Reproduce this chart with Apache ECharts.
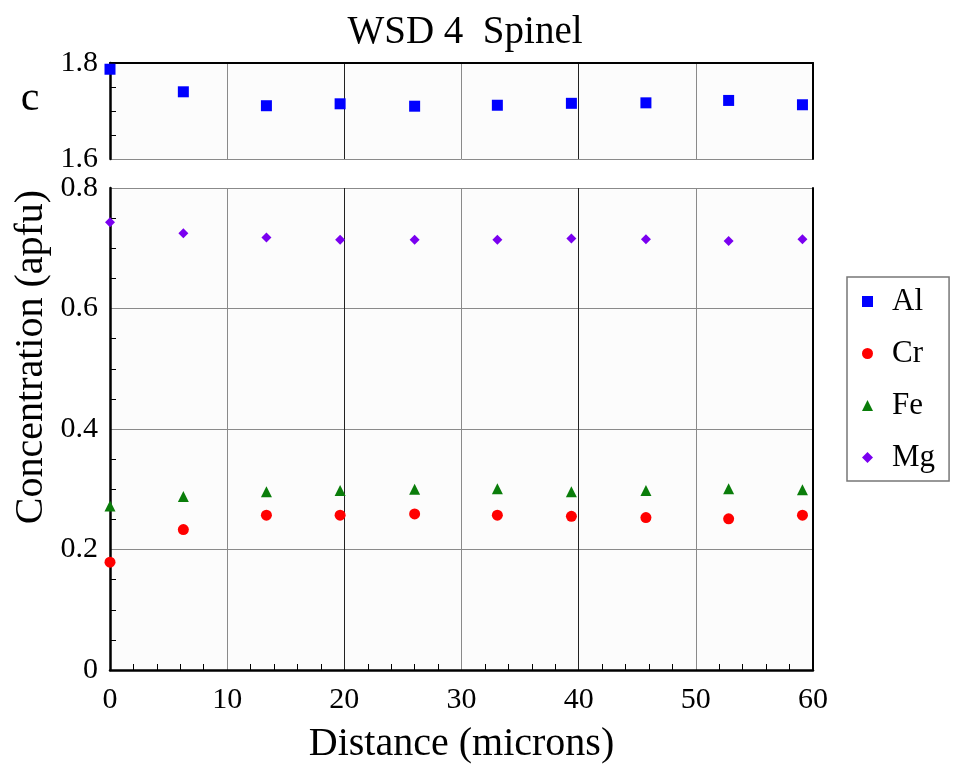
<!doctype html>
<html>
<head>
    <meta charset="utf-8">
    <title>WSD 4 Spinel</title>
    <script src="https://cdn.jsdelivr.net/npm/echarts@6/dist/echarts.min.js"></script>
    <style> html, body, #main {width: 100%; height: 100%; margin: 0; background: #fff;} </style>
</head>
<body>
<div id="main"></div>
<script>
// distance along the traverse (microns)
var distance = [0, 6.26, 13.35, 19.64, 26.0, 33.06, 39.38, 45.74, 52.8, 59.1];
// concentrations (apfu)
var al = [1.787, 1.740, 1.711, 1.715, 1.710, 1.712, 1.716, 1.717, 1.722, 1.713];
var cr = [0.179, 0.233, 0.257, 0.257, 0.259, 0.257, 0.255, 0.253, 0.251, 0.257];
var fe = [0.272, 0.288, 0.296, 0.298, 0.300, 0.301, 0.296, 0.298, 0.301, 0.299];
var mg = [0.743, 0.725, 0.718, 0.714, 0.714, 0.714, 0.716, 0.715, 0.712, 0.715];
var elements = ['Al', 'Cr', 'Fe', 'Mg'];

function pairs(ys) {
    return distance.map(function (x, i) { return [x, ys[i]]; });
}

var serif = 'Liberation Serif, Times New Roman, serif';
var gridX = {left: 110, right: 140};
// vertical grid lines at 20 and 40 are darker in the original
var vColors = ['#8a8a8a', '#8a8a8a', '#222', '#8a8a8a', '#222', '#8a8a8a'];

var c = echarts.init(document.getElementById('main'));
var option = {
    backgroundColor: '#fff',
    animation: false,
    graphic: [
        {type: 'text', x: 465, y: 33, style: {text: 'WSD 4  Spinel', font: '39px ' + serif, fill: '#000', align: 'center', verticalAlign: 'middle'}},
        {type: 'text', x: 30, y: 99, style: {text: 'c', font: '42px ' + serif, fill: '#000', align: 'center', verticalAlign: 'middle'}},
        {type: 'text', x: 31, y: 357, rotation: Math.PI / 2, style: {text: 'Concentration (apfu)', font: '40px ' + serif, fill: '#000', align: 'center', verticalAlign: 'middle'}}
    ],
    legend: {
        orient: 'vertical',
        left: 847,
        top: 277,
        data: elements,
        itemWidth: 11,
        itemHeight: 11,
        itemGap: 21,
        padding: [9, 14, 8, 15],
        borderColor: '#777',
        borderWidth: 1.5,
        backgroundColor: '#fff',
        formatter: '{t|{name}}',
        textStyle: {
            fontFamily: serif, fontSize: 31, color: '#000',
            rich: {t: {fontFamily: serif, fontSize: 31, color: '#000', padding: [0, 0, 0, 14]}}
        }
    },
    grid: [
        {left: gridX.left, right: gridX.right, top: 63, height: 96, show: true, backgroundColor: '#fcfcfc', borderWidth: 0},
        {left: gridX.left, right: gridX.right, top: 188, bottom: 98, show: true, backgroundColor: '#fcfcfc', borderWidth: 0}
    ],
    xAxis: [
        {
            gridIndex: 0, type: 'value', position: 'top', min: 0, max: 60, interval: 10,
            axisLine: {show: true, lineStyle: {color: '#000', width: 2}},
            axisTick: {show: false}, axisLabel: {show: false},
            splitLine: {show: true, lineStyle: {color: vColors, width: 1}}
        },
        {
            gridIndex: 1, type: 'value', position: 'bottom', min: 0, max: 60, interval: 10,
            name: 'Distance (microns)', nameLocation: 'middle', nameGap: 54,
            nameTextStyle: {fontFamily: serif, fontSize: 40, color: '#000'},
            axisLine: {show: true, onZero: false, lineStyle: {color: '#000', width: 2.5}},
            axisTick: {show: false, inside: true},
            minorTick: {show: true, splitNumber: 5, length: 6, lineStyle: {color: '#000', width: 1}},
            axisLabel: {fontFamily: serif, fontSize: 30, color: '#000', margin: 15},
            splitLine: {show: true, lineStyle: {color: vColors, width: 1}}
        }
    ],
    yAxis: [
        {
            gridIndex: 0, type: 'value', position: 'left', min: 1.6, max: 1.8, interval: 0.2,
            axisLine: {show: true, lineStyle: {color: '#000', width: 2.5}},
            axisTick: {show: false, inside: true},
            minorTick: {show: true, splitNumber: 4, length: 6, lineStyle: {color: '#000', width: 1}},
            axisLabel: {fontFamily: serif, fontSize: 30, color: '#000', margin: 12},
            splitLine: {show: true, lineStyle: {color: '#8a8a8a', width: 1}}
        },
        {
            gridIndex: 0, type: 'value', position: 'right', min: 1.6, max: 1.8,
            axisLine: {show: true, lineStyle: {color: '#000', width: 2}},
            axisTick: {show: false}, axisLabel: {show: false}, splitLine: {show: false}
        },
        {
            gridIndex: 1, type: 'value', position: 'left', min: 0, max: 0.8, interval: 0.2,
            axisLine: {show: true, onZero: false, lineStyle: {color: '#000', width: 2.5}},
            axisTick: {show: false, inside: true},
            minorTick: {show: true, splitNumber: 4, length: 6, lineStyle: {color: '#000', width: 1}},
            axisLabel: {fontFamily: serif, fontSize: 30, color: '#000', margin: 12},
            splitLine: {show: true, lineStyle: {color: '#8a8a8a', width: 1}}
        },
        {
            gridIndex: 1, type: 'value', position: 'right', min: 0, max: 0.8,
            axisLine: {show: true, onZero: false, lineStyle: {color: '#000', width: 2}},
            axisTick: {show: false}, axisLabel: {show: false}, splitLine: {show: false}
        }
    ],
    series: [
        {name: 'Al', type: 'scatter', xAxisIndex: 0, yAxisIndex: 0, data: pairs(al), clip: false,
            symbol: 'rect', symbolSize: 11, itemStyle: {color: '#0000ff', opacity: 1}},
        {name: 'Cr', type: 'scatter', xAxisIndex: 1, yAxisIndex: 2, data: pairs(cr), clip: false,
            symbol: 'circle', symbolSize: 11, itemStyle: {color: '#ff0000', opacity: 1}},
        {name: 'Fe', type: 'scatter', xAxisIndex: 1, yAxisIndex: 2, data: pairs(fe), clip: false,
            symbol: 'triangle', symbolSize: 11, itemStyle: {color: '#0a7d0a', opacity: 1}},
        {name: 'Mg', type: 'scatter', xAxisIndex: 1, yAxisIndex: 2, data: pairs(mg), clip: false,
            symbol: 'diamond', symbolSize: 10, itemStyle: {color: '#7a00f0', opacity: 1}}
    ]
};
c.setOption(option);
</script>
</body>
</html>
